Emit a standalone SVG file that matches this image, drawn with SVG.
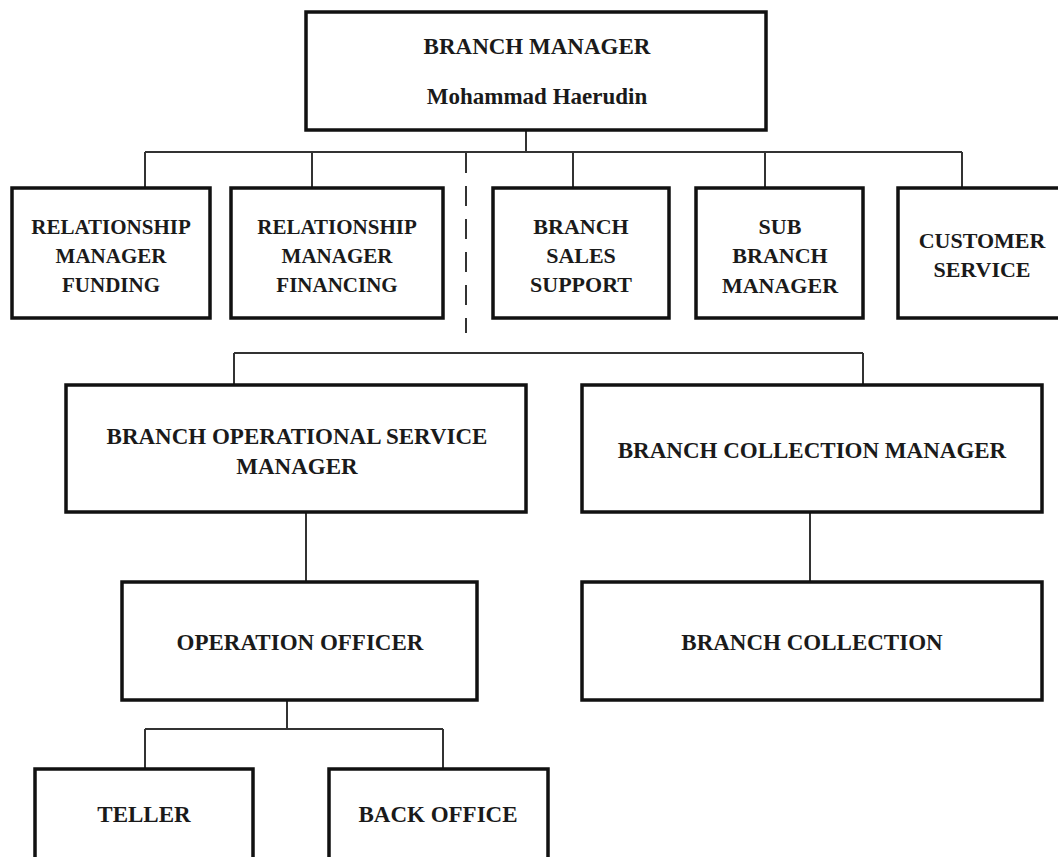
<svg xmlns="http://www.w3.org/2000/svg" width="1058" height="857" viewBox="0 0 1058 857">
<style>
.box{fill:#fff;stroke:#111;stroke-width:3.5}
.t{font-family:"Liberation Serif","Times New Roman",serif;font-weight:bold;fill:#1a1a1a;text-anchor:middle}
.s21{font-size:21px}
.s22{font-size:22px}
.s23{font-size:23px}
.c{fill:none;stroke:#333;stroke-width:2}
.d{fill:none;stroke:#333;stroke-width:2;stroke-dasharray:20 13}
</style>
<rect width="1058" height="857" fill="#fff"/>
<g id="connectors">
<path class="c" d="M526 130V152M145 152H962M145 152V188M312 152V188M573 152V188M765 152V188M962 152V188"/>
<path class="d" d="M466 153V333"/>
<path class="c" d="M234 353H863M234 353V385M863 353V385"/>
<path class="c" d="M306 512V582M810 512V582"/>
<path class="c" d="M287 700V729M145 729H443M145 729V769M443 729V769"/>
</g>
<g id="branch-manager">
<rect class="box" x="306" y="12" width="460" height="118"/>
<text class="t s23" x="537" y="54">BRANCH MANAGER</text>
<text class="t s23" x="537" y="104">Mohammad Haerudin</text>
</g>
<g id="rm-funding">
<rect class="box" x="12" y="188" width="198" height="130"/>
<text class="t s21" x="111" y="234">RELATIONSHIP</text>
<text class="t s21" x="111" y="263">MANAGER</text>
<text class="t s21" x="111" y="292">FUNDING</text>
</g>
<g id="rm-financing">
<rect class="box" x="231" y="188" width="212" height="130"/>
<text class="t s21" x="337" y="234">RELATIONSHIP</text>
<text class="t s21" x="337" y="263">MANAGER</text>
<text class="t s21" x="337" y="292">FINANCING</text>
</g>
<g id="branch-sales-support">
<rect class="box" x="493" y="188" width="176" height="130"/>
<text class="t s22" x="581" y="234">BRANCH</text>
<text class="t s22" x="581" y="263">SALES</text>
<text class="t s22" x="581" y="292">SUPPORT</text>
</g>
<g id="sub-branch-manager">
<rect class="box" x="696" y="188" width="167" height="130"/>
<text class="t s22" x="780" y="234">SUB</text>
<text class="t s22" x="780" y="263">BRANCH</text>
<text class="t s22" x="780" y="293">MANAGER</text>
</g>
<g id="customer-service">
<rect class="box" x="898" y="188" width="168" height="130"/>
<text class="t s22" x="982" y="248">CUSTOMER</text>
<text class="t s22" x="982" y="277">SERVICE</text>
</g>
<g id="branch-operational-service-manager">
<rect class="box" x="66" y="385" width="460" height="127"/>
<text class="t s23" x="297" y="444">BRANCH OPERATIONAL SERVICE</text>
<text class="t s23" x="297" y="474">MANAGER</text>
</g>
<g id="branch-collection-manager">
<rect class="box" x="582" y="385" width="460" height="127"/>
<text class="t s23" x="812" y="458">BRANCH COLLECTION MANAGER</text>
</g>
<g id="operation-officer">
<rect class="box" x="122" y="582" width="355" height="118"/>
<text class="t s23" x="300" y="650">OPERATION OFFICER</text>
</g>
<g id="branch-collection">
<rect class="box" x="582" y="582" width="460" height="118"/>
<text class="t s23" x="812" y="650">BRANCH COLLECTION</text>
</g>
<g id="teller">
<rect class="box" x="35" y="769" width="218" height="95"/>
<text class="t s23" x="144" y="822">TELLER</text>
</g>
<g id="back-office">
<rect class="box" x="329" y="769" width="219" height="95"/>
<text class="t s23" x="438" y="822">BACK OFFICE</text>
</g>
</svg>
